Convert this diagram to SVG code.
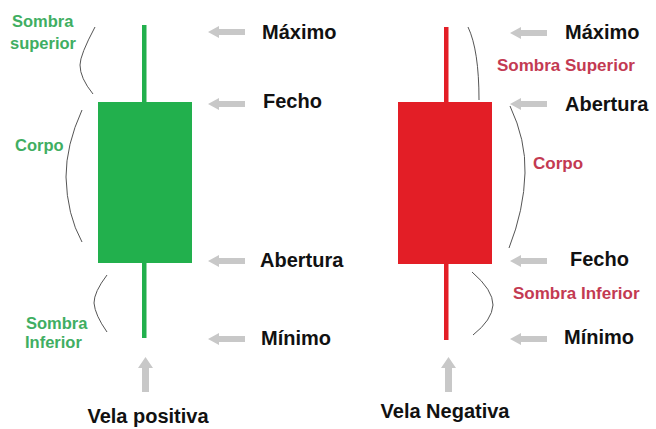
<svg xmlns="http://www.w3.org/2000/svg" width="656" height="429" viewBox="0 0 656 429">
<defs>
<path id="arrL" d="M0,0 L11,-6 L11,-3 L37,-3 L37,3 L11,3 L11,6 Z" fill="#c8c8c8"/>
<path id="arrU" d="M0,0 L7.5,11 L3.5,11 L3.5,35 L-3.5,35 L-3.5,11 L-7.5,11 Z" fill="#c8c8c8"/>
</defs>
<style>
.lbl{font-family:"Liberation Sans",Arial,sans-serif;font-weight:bold;font-size:20px;fill:#111}
.g{font-family:"Liberation Sans",Arial,sans-serif;font-weight:bold;font-size:16.5px;fill:#3fae62}
.r{font-family:"Liberation Sans",Arial,sans-serif;font-weight:bold;font-size:17px;fill:#c33a52}
.br{stroke:#555;stroke-width:1;fill:none}
</style>
<rect width="656" height="429" fill="#fff"/>
<g id="green-candle">
<rect x="142" y="25" width="4.5" height="313" fill="#22b04d"/>
<rect x="98" y="102" width="94" height="161" fill="#22b04d"/>
</g>
<g id="red-candle">
<rect x="444" y="27" width="4.5" height="313" fill="#e31e26"/>
<rect x="398" y="102" width="94" height="162" fill="#e31e26"/>
</g>
<g id="connectors">
<use href="#arrL" x="208" y="32"/>
<use href="#arrL" x="208" y="104"/>
<use href="#arrL" x="208" y="261"/>
<use href="#arrL" x="208" y="339"/>
<use href="#arrL" x="510" y="33"/>
<use href="#arrL" x="510" y="104"/>
<use href="#arrL" x="510" y="261"/>
<use href="#arrL" x="510" y="339"/>
<use href="#arrU" x="145.5" y="357"/>
<use href="#arrU" x="448.5" y="357"/>
<path class="br" d="M95,27 Q80,55 80,65 Q80,78 93,94"/>
<path class="br" d="M82,110 Q66,145 66,177 Q67,215 82,242"/>
<path class="br" d="M107,275 Q94,292 94,303 Q95,315 107,332"/>
<path class="br" d="M468,27 Q479,50 479,100"/>
<path class="br" d="M510,106 Q526,140 525,173 Q524,210 509,248"/>
<path class="br" d="M472,272 Q493,290 493,305 Q492,320 473,335"/>
</g>
<g id="labels-left">
<text class="lbl" x="262" y="39">Máximo</text>
<text class="lbl" x="263" y="108">Fecho</text>
<text class="lbl" x="260" y="267">Abertura</text>
<text class="lbl" x="261" y="345">Mínimo</text>
<text class="lbl" x="148" y="423" text-anchor="middle" font-size="19.5">Vela positiva</text>
<text class="g" x="12" y="27">Sombra</text>
<text class="g" x="10" y="49">superior</text>
<text class="g" x="15" y="151">Corpo</text>
<text class="g" x="26" y="329">Sombra</text>
<text class="g" x="25" y="348">Inferior</text>
</g>
<g id="labels-right">
<text class="lbl" x="565" y="39">Máximo</text>
<text class="lbl" x="565" y="111">Abertura</text>
<text class="lbl" x="570" y="266">Fecho</text>
<text class="lbl" x="564" y="344">Mínimo</text>
<text class="lbl" x="445" y="418" text-anchor="middle" font-size="19">Vela Negativa</text>
<text class="r" x="497" y="71">Sombra Superior</text>
<text class="r" x="533" y="169">Corpo</text>
<text class="r" x="513" y="299">Sombra Inferior</text>
</g>
</svg>
